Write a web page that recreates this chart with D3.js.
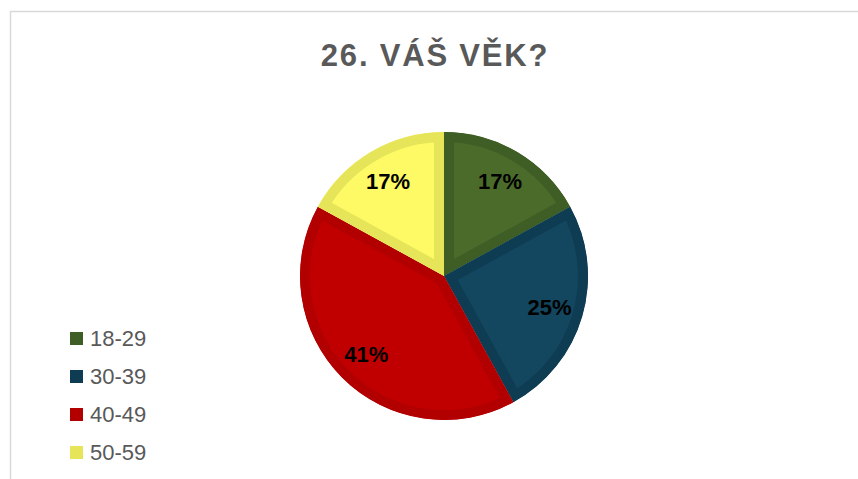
<!DOCTYPE html>
<html>
<head>
<meta charset="utf-8">
<script src="https://cdn.jsdelivr.net/npm/d3@7"></script>
<style>
  body { margin: 0; background: #fff; }
  svg { display: block; font-family: "Liberation Sans", Arial, sans-serif; }
</style>
</head>
<body>
<script>
// 26. Váš věk? - pie chart
var W = 858, H = 479;

var categories = ["18-29", "30-39", "40-49", "50-59"];
var values = [17, 25, 41, 17];
var fills = ["#4b6b2b", "#13465f", "#c00000", "#fdfa66"];
var borders = ["#3e5e25", "#0e3c52", "#b20000", "#e6e55a"];

var cx = 444, cy = 276, r = 144,
    inset = 10;

var svg = d3.select("body").append("svg")
  .attr("width", W)
  .attr("height", H);

// chart frame (only top and left edges visible)
svg.append("rect")
  .attr("x", 10.5).attr("y", 11.5)
  .attr("width", W + 20).attr("height", H + 20)
  .attr("fill", "#fff")
  .attr("stroke", "#d9d9d9")
  .attr("stroke-width", 1.5);

svg.append("text")
  .attr("x", 435).attr("y", 66)
  .attr("text-anchor", "middle")
  .attr("font-size", 31)
  .attr("font-weight", "bold")
  .attr("letter-spacing", 1.8)
  .attr("fill", "#595959")
  .text("26. VÁŠ VĚK?");

var pie = d3.pie().sort(null).value(function(d){ return d; });
var arcs = pie(values);
var arc = d3.arc().innerRadius(0).outerRadius(r);
var labelArc = d3.arc().innerRadius(110).outerRadius(110);

var g = svg.append("g").attr("transform", "translate(" + cx + "," + cy + ")");
var defs = svg.append("defs");

arcs.forEach(function(d, i){
  defs.append("clipPath").attr("id", "clip" + i)
    .append("path").attr("d", arc(d));
});

g.selectAll("path.slice")
  .data(arcs)
  .enter().append("path")
    .attr("class", "slice")
    .attr("d", arc)
    .attr("fill", function(d, i){ return fills[i]; })
    .attr("stroke", function(d, i){ return borders[i]; })
    .attr("stroke-width", inset * 2)
    .attr("stroke-linejoin", "miter")
    .attr("clip-path", function(d, i){ return "url(#clip" + i + ")"; });

g.selectAll("text.lbl")
  .data(arcs)
  .enter().append("text")
    .attr("class", "lbl")
    .attr("transform", function(d){ return "translate(" + labelArc.centroid(d) + ")"; })
    .attr("text-anchor", "middle")
    .attr("dy", "0.36em")
    .attr("font-size", 22)
    .attr("font-weight", "bold")
    .attr("fill", "#000")
    .text(function(d){ return d.value + "%"; });

// legend
var legend = svg.append("g");
var item = legend.selectAll("g")
  .data(categories)
  .enter().append("g")
    .attr("transform", function(d, i){ return "translate(70," + (332 + i * 38) + ")"; });

item.append("rect")
  .attr("width", 13).attr("height", 13)
  .attr("fill", function(d, i){ return borders[i]; });

item.append("text")
  .attr("x", 20).attr("y", 13.5)
  .attr("font-size", 22)
  .attr("fill", "#595959")
  .text(function(d){ return d; });
</script>
</body>
</html>
